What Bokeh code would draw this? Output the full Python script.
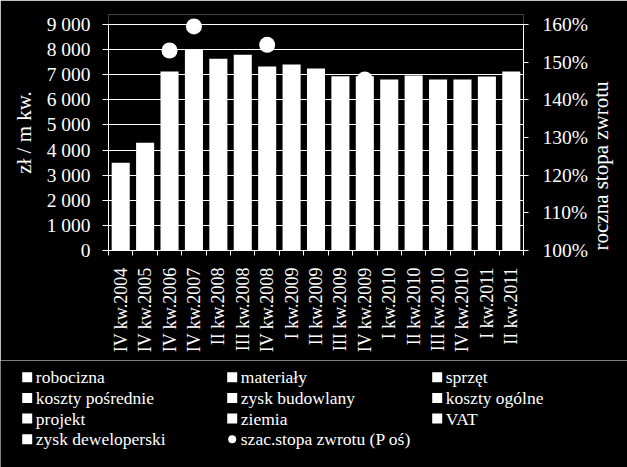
import math
import numpy as np
from bokeh.plotting import figure
from bokeh.models import (Range1d, LinearAxis, FixedTicker, NumeralTickFormatter,
                          ColumnDataSource, Title)
from bokeh.core.properties import value
from bokeh.embed import file_html
from bokeh.resources import INLINE

# ---- data ----
quarters = ["IV kw.2004", "IV kw.2005", "IV kw.2006", "IV kw.2007", "II kw.2008",
            "III kw.2008", "IV kw.2008", "I kw.2009", "II kw.2009", "III kw.2009",
            "IV kw.2009", "I kw.2010", "II kw.2010", "III kw.2010", "IV kw.2010",
            "I kw.2011", "II kw.2011"]
total_cost = [3490, 4290, 7130, 8000, 7640, 7800, 7330, 7410, 7250, 6940,
              6940, 6810, 6970, 6810, 6810, 6930, 7130]
nan = float("nan")
return_rate = [nan, nan, 1.531, 1.595, nan, nan, 1.546, nan, nan, nan,
               1.454, nan, nan, nan, nan, nan, nan]
component_labels = ["robocizna", "materiały", "sprzęt",
                    "koszty pośrednie", "zysk budowlany", "koszty ogólne",
                    "projekt", "ziemia", "VAT",
                    "zysk deweloperski"]
rate_label = "szac.stopa zwrotu (P oś)"
y_ticks = [0, 1000, 2000, 3000, 4000, 5000, 6000, 7000, 8000, 9000]
y_tick_labels = ["0", "1 000", "2 000", "3 000", "4 000", "5 000", "6 000",
                 "7 000", "8 000", "9 000"]
pct_ticks = [1.0, 1.1, 1.2, 1.3, 1.4, 1.5, 1.6]
y_title = "zł / m kw."
y2_title = "roczna stopa zwrotu"

FONT = "Liberation Serif"
WHITE = "#ffffff"
BLACK = "#000000"

# headroom (10 px over a 226 px axis) so markers at the top are not clipped
HEAD = 10.0 / 226.0

idx = list(range(len(quarters)))
src = ColumnDataSource(dict(x=idx, total=total_cost, rate=np.array(return_rate)))

p = figure(width=627, height=360, x_range=Range1d(-0.5, len(quarters) - 0.5),
           y_range=Range1d(0, 9000 * (1 + HEAD)), output_backend="svg",
           toolbar_location=None,
           background_fill_color=BLACK, border_fill_color=BLACK,
           outline_line_color=None,
           min_border_left=108, min_border_right=99, min_border_top=14,
           min_border_bottom=110)
p.extra_y_ranges = {"pct": Range1d(1.0, 1.0 + 0.6 * (1 + HEAD))}

bars = p.vbar(x="x", top="total", width=0.74, source=src,
              fill_color=WHITE, line_color=None)
dots = p.scatter(x="x", y="rate", y_range_name="pct", size=16, source=src,
                 fill_color=WHITE, line_color=None)

# grid
p.xgrid.visible = False
p.ygrid.grid_line_color = WHITE
p.ygrid.grid_line_width = 1
p.ygrid.ticker = FixedTicker(ticks=y_ticks)

# x axis
xa = p.xaxis[0]
xa.ticker = FixedTicker(ticks=idx, minor_ticks=[i - 0.5 for i in range(len(quarters) + 1)])
xa.major_label_overrides = {i: q for i, q in zip(idx, quarters)}
xa.major_label_orientation = math.pi / 2
xa.major_tick_line_color = None
xa.major_tick_out = 0
xa.major_tick_in = 0
xa.minor_tick_line_color = WHITE
xa.minor_tick_out = 5
xa.minor_tick_in = 0
xa.major_label_standoff = 12
xa.axis_line_color = WHITE
xa.major_label_text_font = FONT
xa.major_label_text_font_size = "18px"
xa.major_label_text_color = WHITE

# left axis
ya = p.yaxis[0]
ya.ticker = FixedTicker(ticks=y_ticks)
ya.bounds = (0, 9000)
ya.major_label_overrides = dict(zip(y_ticks, y_tick_labels))
ya.axis_line_color = WHITE
ya.major_tick_line_color = WHITE
ya.major_tick_out = 6
ya.major_tick_in = 0
ya.minor_tick_line_color = None
ya.major_label_standoff = 12
ya.major_label_text_font = FONT
ya.major_label_text_font_size = "19.5px"
ya.major_label_text_color = WHITE

p.add_layout(Title(text=y_title, align="center", offset=-30, standoff=16,
                   text_font=FONT, text_font_size="21px", text_font_style="normal",
                   text_color=WHITE), "left")

# right axis
ra = LinearAxis(y_range_name="pct", ticker=FixedTicker(ticks=pct_ticks),
                formatter=NumeralTickFormatter(format="0%"), bounds=(1.0, 1.6))
ra.axis_line_color = WHITE
ra.major_tick_line_color = WHITE
ra.major_tick_out = 5
ra.major_tick_in = 0
ra.minor_tick_line_color = None
ra.major_label_standoff = 14
ra.major_label_text_font = FONT
ra.major_label_text_font_size = "19.5px"
ra.major_label_text_color = WHITE
ra.axis_label = y2_title
ra.axis_label_orientation = math.pi / 2
ra.axis_label_align = "start"
ra.axis_label_text_font = FONT
ra.axis_label_text_font_size = "21px"
ra.axis_label_text_font_style = "normal"
ra.axis_label_text_color = WHITE
ra.axis_label_standoff = 10
p.add_layout(ra, "right")

# ---- legend strip (3 columns, row-major order), pixel-like coordinates ----
LW, LH = 627, 107
lf = figure(width=LW, height=LH, x_range=Range1d(0, LW), y_range=Range1d(LH, 0),
            output_backend="svg", toolbar_location=None,
            x_axis_type=None, y_axis_type=None,
            background_fill_color=BLACK, border_fill_color=BLACK,
            outline_line_color=None, min_border=0,
            min_border_left=0, min_border_right=0,
            min_border_top=0, min_border_bottom=0)

all_labels = component_labels + [rate_label]
n = len(all_labels)
col = [i % 3 for i in range(n)]
row = [i // 3 for i in range(n)]
COL_X0, COL_STEP = 26.7, 205.0
ROW_Y0, ROW_STEP = 16.7, 20.7
sw_x = [COL_X0 + COL_STEP * c for c in col]
sw_y = [ROW_Y0 + ROW_STEP * r for r in row]
txt_x = [x + 8.6 for x in sw_x]
markers = ["square"] * len(component_labels) + ["circle"]
sizes = [10] * len(component_labels) + [8]

leg_src = ColumnDataSource(dict(sx=sw_x, sy=sw_y, tx=txt_x, label=all_labels,
                                marker=markers, size=sizes))
lf.scatter(x="sx", y="sy", marker="marker", size="size", source=leg_src,
           fill_color=WHITE, line_color=None)
lf.text(x="tx", y="sy", text="label", source=leg_src,
        text_font=value(FONT), text_font_size="17.5px", text_color=WHITE,
        text_align="left", text_baseline="middle")

html = file_html([p, lf], INLINE)
html = html.replace("<body>", '<body style="margin:0;background:#000000;">', 1)
open("out.html", "w").write(html)
